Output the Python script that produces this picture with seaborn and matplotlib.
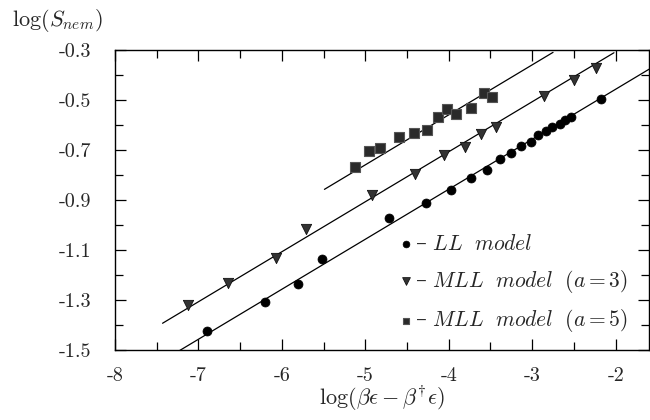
import numpy as np
import pandas as pd
import matplotlib
matplotlib.use("Agg")
import matplotlib.pyplot as plt
from matplotlib.ticker import MultipleLocator, FixedLocator, FixedFormatter
import seaborn as sns

# ---- data ----
ll_x = [-6.90, -6.20, -5.81, -5.52, -4.72, -4.27, -3.97, -3.73, -3.54, -3.38,
        -3.25, -3.13, -3.02, -2.93, -2.83, -2.76, -2.67, -2.61, -2.54, -2.18]
ll_y = [-1.424, -1.307, -1.235, -1.135, -0.971, -0.913, -0.860, -0.811, -0.780, -0.735,
        -0.711, -0.684, -0.668, -0.640, -0.623, -0.607, -0.595, -0.580, -0.568, -0.496]

mll3_x = [-7.12, -6.64, -6.07, -5.71, -4.92, -4.40, -4.06, -3.80, -3.61, -3.43,
          -2.86, -2.50, -2.24]
mll3_y = [-1.320, -1.231, -1.133, -1.017, -0.880, -0.796, -0.721, -0.689, -0.637, -0.607,
          -0.484, -0.421, -0.372]

mll5_x = [-5.12, -4.96, -4.82, -4.60, -4.42, -4.26, -4.13, -4.02, -3.91, -3.73,
          -3.58, -3.48]
mll5_y = [-0.769, -0.703, -0.692, -0.649, -0.631, -0.620, -0.567, -0.537, -0.556, -0.531,
          -0.473, -0.489]

# fitted lines: slope, intercept, x-start, x-end
fit_slope = [0.2, 0.2, 0.2]
fit_intercept = [-0.057, 0.093, 0.2406]
fit_xstart = [-7.25, -7.43, -5.49]
fit_xend = [-1.60, -2.02, -2.75]

labels = ["\u2013 $LL\\ \\ model$",
          "\u2013 $MLL\\ \\ model\\ \\ (a{=}3)$",
          "\u2013 $MLL\\ \\ model\\ \\ (a{=}5)$"]

xticks = [-8, -7, -6, -5, -4, -3, -2]
xticklabels = ["-8", "-7", "-6", "-5", "-4", "-3", "-2"]
yticks = [-1.5, -1.3, -1.1, -0.9, -0.7, -0.5, -0.3]
yticklabels = ["-1.5", "-1.3", "-1.1", "-0.9", "-0.7", "-0.5", "-0.3"]

# ---- style ----
sns.set_style("ticks")
plt.rcParams["font.family"] = ["cmr10", "DejaVu Serif"]
plt.rcParams["mathtext.fontset"] = "cm"
plt.rcParams["axes.unicode_minus"] = False

fig = plt.figure(figsize=(6.5, 4.2), dpi=100)
ax = fig.add_axes([115/650, 1 - 350/420, (649-115)/650, 300/420])

# fit lines
for s, b, x0, x1 in zip(fit_slope, fit_intercept, fit_xstart, fit_xend):
    xs = np.array([x0, x1])
    df_line = pd.DataFrame({"x": xs, "y": s * xs + b})
    sns.lineplot(data=df_line, x="x", y="y", ax=ax, color="black", lw=0.9,
                 legend=False, zorder=2)

df_ll = pd.DataFrame({"x": ll_x, "y": ll_y})
df_m3 = pd.DataFrame({"x": mll3_x, "y": mll3_y})
df_m5 = pd.DataFrame({"x": mll5_x, "y": mll5_y})

sns.scatterplot(data=df_ll, x="x", y="y", ax=ax, marker="o", s=42,
                color="black", edgecolor="black", linewidth=0.5,
                label=labels[0], zorder=3)
sns.scatterplot(data=df_m3, x="x", y="y", ax=ax, marker="v", s=55,
                color="#333333", edgecolor="#111111", linewidth=0.6,
                label=labels[1], zorder=3)
sns.scatterplot(data=df_m5, x="x", y="y", ax=ax, marker="s", s=42,
                color="#2a2a2a", edgecolor="#555555", linewidth=0.8,
                label=labels[2], zorder=3)

ax.set_xlim(-8, -1.6)
ax.set_ylim(-1.5, -0.3)

ax.xaxis.set_major_locator(FixedLocator(xticks))
ax.xaxis.set_major_formatter(FixedFormatter(xticklabels))
ax.yaxis.set_major_locator(FixedLocator(yticks))
ax.yaxis.set_major_formatter(FixedFormatter(yticklabels))
ax.xaxis.set_minor_locator(MultipleLocator(0.5))
ax.yaxis.set_minor_locator(MultipleLocator(0.1))

ax.tick_params(which="both", direction="in", top=True, right=True,
               labelsize=14.5, width=0.9, color="black")
ax.tick_params(which="major", length=8, pad=17)
ax.tick_params(which="minor", length=6)
ax.tick_params(axis="x", which="major", pad=12)
for sp in ax.spines.values():
    sp.set_visible(True)
    sp.set_linewidth(1.0)
    sp.set_color("black")

ax.set_xlabel(r"$\log(\beta\epsilon - \beta^{\dagger}\epsilon)$", fontsize=16, labelpad=0)
ax.set_ylabel("")
fig.text(12/650, 1 - 20/420, r"$\log(S_{nem})$", fontsize=16, ha="left", va="center")

leg = ax.legend(loc="upper left", bbox_to_anchor=(0.51, 0.42), frameon=False,
                prop={"family": "DejaVu Serif", "size": 15.5},
                handletextpad=0.0, handlelength=0.9, markerscale=0.75,
                labelspacing=0.6, borderaxespad=0)

fig.savefig("out.png", dpi=100)
